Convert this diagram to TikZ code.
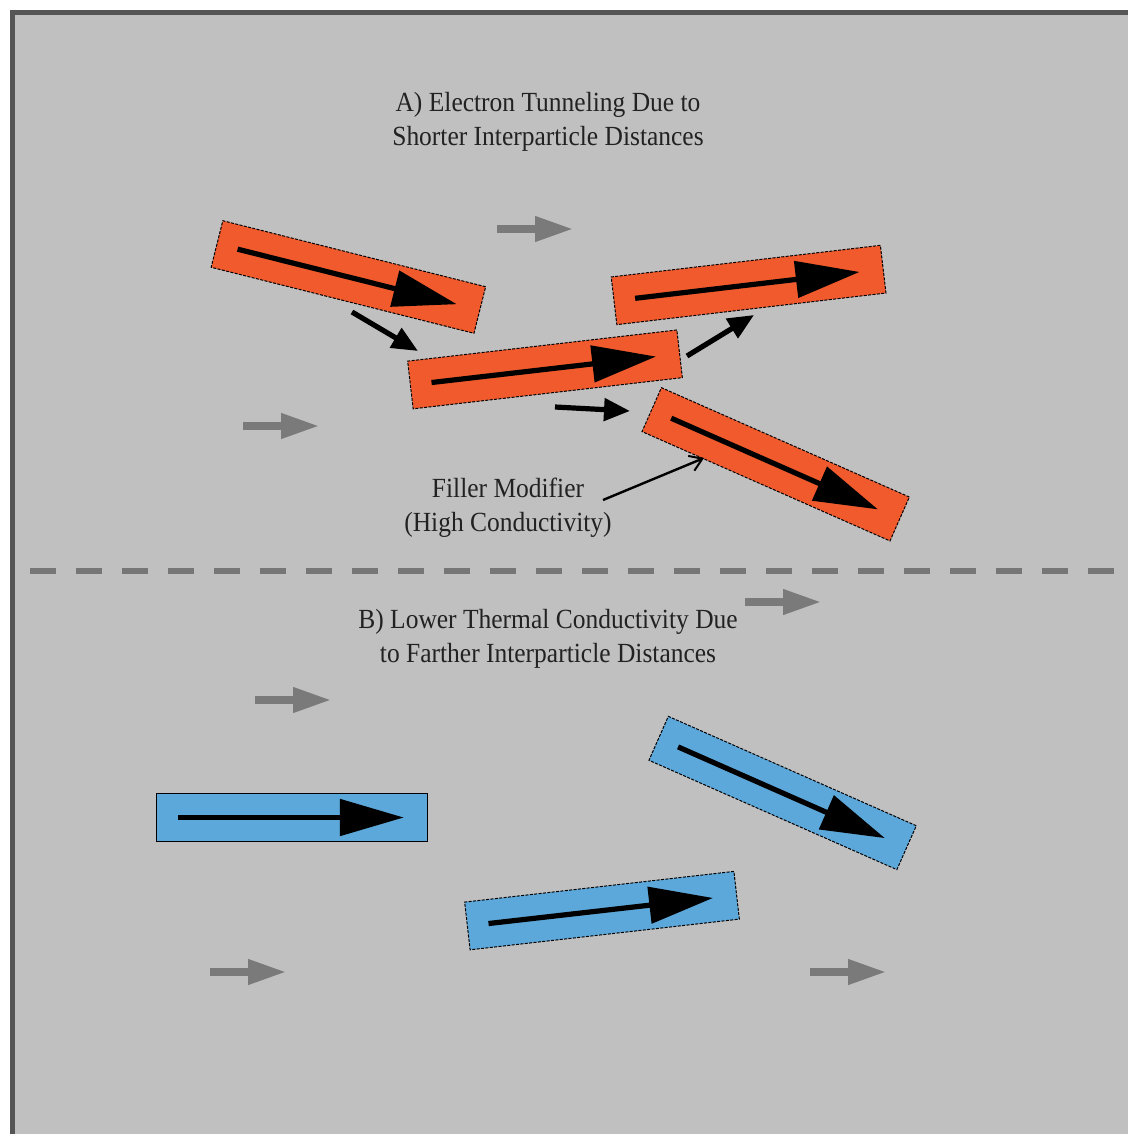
\documentclass[tikz,border=0pt]{standalone}
\usepackage{fontspec}
\setmainfont{Liberation Serif}[FakeStretch=0.92]
\usetikzlibrary{arrows.meta,calc}
\definecolor{bgc}{HTML}{C0C0C0}
\definecolor{framec}{HTML}{555555}
\definecolor{orangec}{HTML}{F05A2C}
\definecolor{bluec}{HTML}{5CA8DA}
\definecolor{grayarrow}{HTML}{7A7A7A}
\definecolor{dashc}{HTML}{767676}
\definecolor{textc}{HTML}{222222}
\tikzset{
  particle/.style={draw=black, line width=0.5pt, minimum width=135.5pt, minimum height=24pt, inner sep=0pt},
  hotparticle/.style={particle, fill=orangec, dash pattern=on 1.5pt off 0.7pt},
  coolparticle/.style={particle, fill=bluec, dash pattern=on 1.5pt off 0.7pt},
  inarrow/.style={line width=2.6pt, -{Triangle[length=32pt,width=18pt]}},
  tunnel/.style={line width=2.6pt, -{Triangle[length=13pt,width=11pt]}},
  flow/.style={grayarrow, line width=3.6pt, -{Triangle[length=19pt,width=12pt]}},
  pointer/.style={line width=1.2pt, -{Straight Barb[length=6pt,width=8pt,line width=1pt]}},
  caption/.style={font=\fontsize{13.85pt}{17pt}\selectfont, text=textc, align=center, inner sep=0pt}
}
\newcommand{\innerarrow}[1]{\draw[inarrow] ($(#1.west)!0.08!(#1.east)$) -- ($(#1.west)!0.911!(#1.east)$);}
\begin{document}
\begin{tikzpicture}[x=0.5pt,y=-0.5pt]
\useasboundingbox (0,0) rectangle (1128,1134);
\fill[white] (0,0) rectangle (1128,1134);
\fill[bgc] (12,13) rectangle (1128,1134);
\draw[framec, line width=2.5pt] (12.5,1134) -- (12.5,13) -- (1128,13);

% captions
\node[caption] (capA) at (548,122) {A) Electron Tunneling Due to\\Shorter Interparticle Distances};
\node[caption] (capF) at (508,508) {Filler Modifier\\(High Conductivity)};
\node[caption] (capB) at (548,639) {B) Lower Thermal Conductivity Due\\to Farther Interparticle Distances};

% divider
\coordinate (divL) at (30,571);
\coordinate (divR) at (1128,571);
\draw[dashc, line width=3pt, dash pattern=on 13pt off 10pt] (divL) -- (divR);

% high-conductivity particles
\node[hotparticle, rotate=-14.1] (h1) at (348.4,277) {};
\node[hotparticle, rotate=6.6] (h2) at (545,369.4) {};
\node[hotparticle, rotate=6.7] (h3) at (748.6,285) {};
\node[hotparticle, rotate=-23.8] (h4) at (775.7,464.3) {};
\foreach \p in {h1,h2,h3,h4} {\innerarrow{\p}}

% low-conductivity particles
\node[particle, fill=bluec] (c1) at (292,817.5) {};
\node[coolparticle, rotate=-23.8] (c2) at (782.6,793) {};
\node[coolparticle, rotate=6.5] (c3) at (602,910.6) {};
\foreach \p in {c1,c2,c3} {\innerarrow{\p}}

% tunneling arrows
\coordinate (t1s) at (352,312);  \coordinate (t1e) at (418,351);
\coordinate (t2s) at (555,407);  \coordinate (t2e) at (630,411);
\coordinate (t3s) at (687,356);  \coordinate (t3e) at (754,315);
\draw[tunnel] (t1s) -- (t1e);
\draw[tunnel] (t2s) -- (t2e);
\draw[tunnel] (t3s) -- (t3e);

% pointer to filler
\coordinate (pS) at (603,500);
\coordinate (pE) at (704,458);
\draw[pointer] (pS) -- (pE);

% gray heat-flow arrows
\foreach \n/\x/\y in {g1/497/229, g2/243/426, g3/745/602, g4/255/700, g5/210/972, g6/810/972} {
  \coordinate (\n s) at (\x,\y);
  \coordinate (\n e) at ($(\x,\y)+(76,0)$);
  \draw[flow] (\n s) -- (\n e);
}
\end{tikzpicture}
\end{document}
